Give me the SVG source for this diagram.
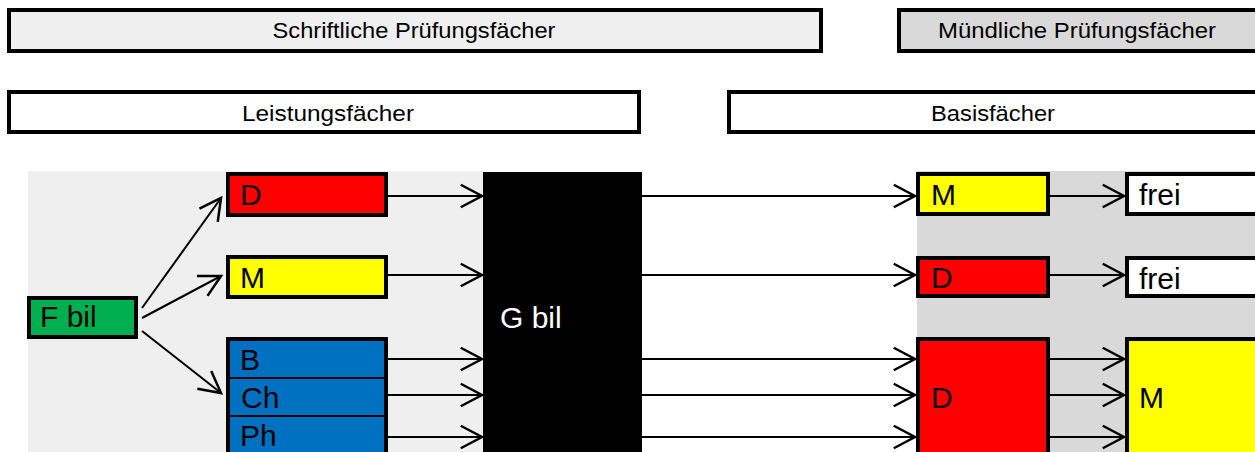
<svg xmlns="http://www.w3.org/2000/svg" width="1255" height="452" viewBox="0 0 1255 452">
<defs>
<style>
.hdr{font-family:"Liberation Sans",Arial,sans-serif;font-size:21.5px;fill:#000;text-anchor:middle}
.lbl{font-family:"Liberation Sans",Arial,sans-serif;font-size:30px;fill:#000}
.box{stroke:#000;stroke-width:4}
.con{stroke:#000;stroke-width:2;fill:none;marker-end:url(#arr)}
</style>
<marker id="arr" markerUnits="userSpaceOnUse" markerWidth="30" markerHeight="30" viewBox="-20 -12 22 24" refX="0" refY="0" orient="auto">
<path d="M-17,-9 L0,0 L-17,9" fill="none" stroke="#000" stroke-width="2"/>
</marker>
</defs>
<rect width="1255" height="452" fill="#fff"/>
<!-- backgrounds -->
<rect x="28" y="171" width="455" height="281" fill="#efefef"/>
<rect x="917" y="171" width="338" height="281" fill="#d9d9d9"/>
<!-- headers -->
<g id="schriftlich"><rect class="box" x="9" y="10" width="812" height="41" fill="#efefef" stroke-width="3.5"/><text class="hdr" x="414" y="38" textLength="283" lengthAdjust="spacingAndGlyphs">Schriftliche Prüfungsfächer</text></g>
<g id="muendlich"><rect class="box" x="899" y="10" width="400" height="41" fill="#d9d9d9" stroke-width="3.5"/><text class="hdr" x="1077" y="38" textLength="278" lengthAdjust="spacingAndGlyphs">Mündliche Prüfungsfächer</text></g>
<g id="leistung"><rect class="box" x="9" y="92" width="630" height="40" fill="#fff" stroke-width="3.5"/><text class="hdr" x="328" y="121" textLength="172" lengthAdjust="spacingAndGlyphs">Leistungsfächer</text></g>
<g id="basis"><rect class="box" x="729" y="92" width="600" height="40" fill="#fff" stroke-width="3.5"/><text class="hdr" x="993" y="121" textLength="124" lengthAdjust="spacingAndGlyphs">Basisfächer</text></g>
<!-- left nodes -->
<g id="fbil"><rect class="box" x="29" y="298" width="107" height="39" fill="#00b050"/><text class="lbl" x="40" y="327">F bil</text></g>
<g id="lD"><rect class="box" x="228" y="174" width="158" height="41" fill="#ff0000"/><text class="lbl" x="240" y="205">D</text></g>
<g id="lM"><rect class="box" x="228" y="257" width="158" height="40" fill="#ffff00"/><text class="lbl" x="240" y="288">M</text></g>
<g id="lNat"><rect class="box" x="228" y="339" width="158" height="130" fill="#0070c0"/>
<line x1="228" y1="378" x2="386" y2="378" stroke="#000" stroke-width="2.2"/>
<line x1="228" y1="416" x2="386" y2="416" stroke="#000" stroke-width="2.2"/>
<text class="lbl" x="240" y="370">B</text><text class="lbl" x="241" y="408">Ch</text><text class="lbl" x="240" y="446">Ph</text></g>
<g id="gbil"><rect x="483" y="172" width="159" height="280" fill="#000"/><text class="lbl" x="500" y="328" fill="#fff" style="fill:#fff">G bil</text></g>
<!-- right nodes -->
<g id="rM"><rect class="box" x="918" y="174" width="130" height="40" fill="#ffff00"/><text class="lbl" x="931" y="205">M</text></g>
<g id="rD"><rect class="box" x="918" y="258" width="130" height="38" fill="#ff0000"/><text class="lbl" x="931" y="288">D</text></g>
<g id="rD2"><rect class="box" x="918" y="339" width="130" height="130" fill="#ff0000"/><text class="lbl" x="931" y="408">D</text></g>
<g id="frei1"><rect class="box" x="1127" y="174" width="200" height="40" fill="#fff"/><text class="lbl" x="1139" y="205">frei</text></g>
<g id="frei2"><rect class="box" x="1127" y="258" width="200" height="38" fill="#fff"/><text class="lbl" x="1139" y="289">frei</text></g>
<g id="rM2"><rect class="box" x="1127" y="339" width="200" height="130" fill="#ffff00"/><text class="lbl" x="1139" y="408">M</text></g>
<!-- connectors -->
<g id="connectors">
<line class="con" x1="142" y1="308" x2="221" y2="198"/>
<line class="con" x1="142" y1="318" x2="221" y2="276"/>
<line class="con" x1="142" y1="331" x2="221" y2="393"/>
<line class="con" x1="388" y1="196" x2="482" y2="196"/>
<line class="con" x1="388" y1="275" x2="482" y2="275"/>
<line class="con" x1="388" y1="359" x2="482" y2="359"/>
<line class="con" x1="388" y1="395" x2="482" y2="395"/>
<line class="con" x1="388" y1="437" x2="482" y2="437"/>
<line class="con" x1="642" y1="196" x2="915" y2="196"/>
<line class="con" x1="642" y1="275" x2="915" y2="275"/>
<line class="con" x1="642" y1="359" x2="915" y2="359"/>
<line class="con" x1="642" y1="395" x2="915" y2="395"/>
<line class="con" x1="642" y1="437" x2="915" y2="437"/>
<line class="con" x1="1050" y1="196" x2="1124" y2="196"/>
<line class="con" x1="1050" y1="275" x2="1124" y2="275"/>
<line class="con" x1="1050" y1="359" x2="1124" y2="359"/>
<line class="con" x1="1050" y1="395" x2="1124" y2="395"/>
<line class="con" x1="1050" y1="437" x2="1124" y2="437"/>
</g>
</svg>
